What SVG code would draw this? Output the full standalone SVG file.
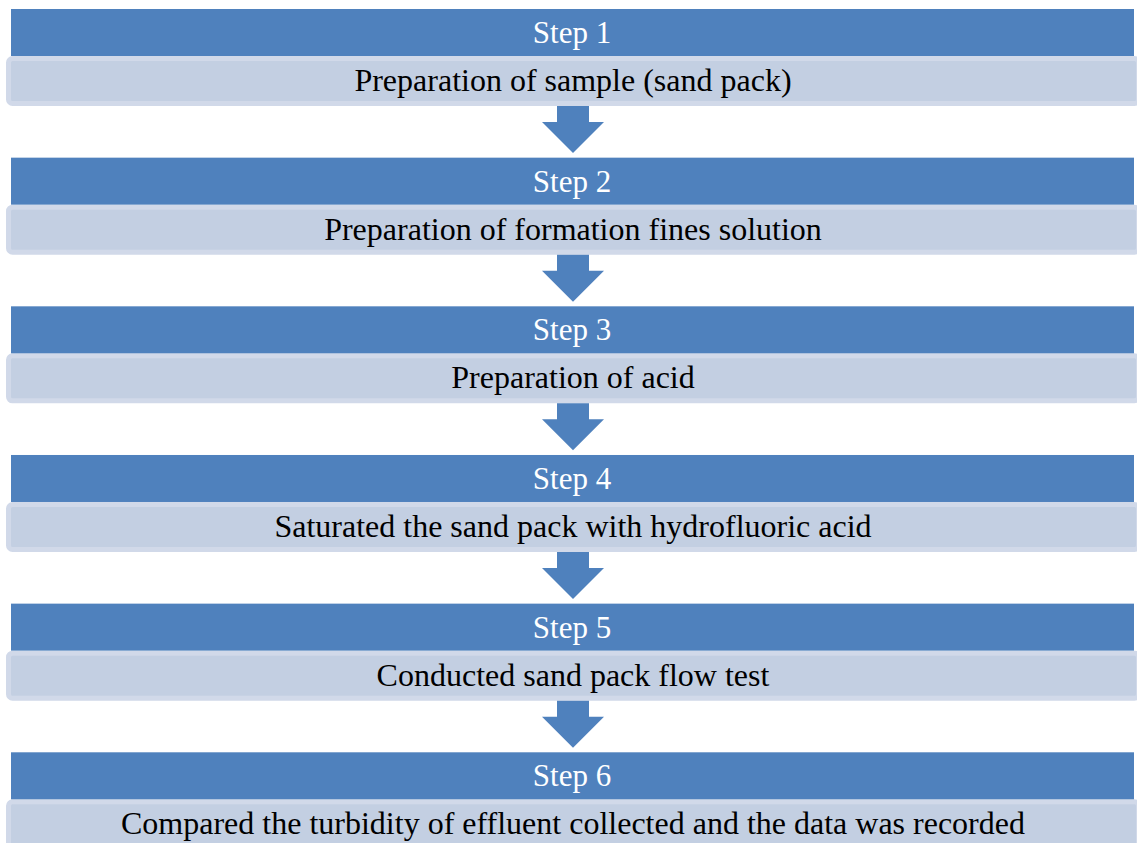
<svg xmlns="http://www.w3.org/2000/svg" width="1137" height="843" viewBox="0 0 1137 843">
<defs>
<style>
.hd{fill:#4f81bd;}
.bd{fill:#c3cfe2;stroke:#d1d9e9;stroke-width:5;}
.ar{fill:#4f81bd;}
.th{font-family:"Liberation Serif","Times New Roman",serif;font-size:31px;fill:#ffffff;text-anchor:middle;}
.tb{font-family:"Liberation Serif","Times New Roman",serif;font-size:32px;fill:#000000;text-anchor:middle;}
</style>
<path id="arw" d="M557,106 H589 V122 H604 L573,153 L542,122 H557 Z"/>
</defs>
<rect width="1137" height="843" fill="#ffffff"/>
<g id="step1">
<rect class="bd" x="8.5" y="58.5" width="1130" height="45" rx="4"/>
<rect class="hd" x="11" y="9" width="1123" height="47"/>
<text class="th" x="572" y="43">Step 1</text>
<text class="tb" x="573" y="91">Preparation of sample (sand pack)</text>
</g>
<g id="step2" transform="translate(0,148.66)">
<rect class="bd" x="8.5" y="58.5" width="1130" height="45" rx="4"/>
<rect class="hd" x="11" y="9" width="1123" height="47"/>
<text class="th" x="572" y="43">Step 2</text>
<text class="tb" x="573" y="91">Preparation of formation fines solution</text>
</g>
<g id="step3" transform="translate(0,297.32)">
<rect class="bd" x="8.5" y="58.5" width="1130" height="45" rx="4"/>
<rect class="hd" x="11" y="9" width="1123" height="47"/>
<text class="th" x="572" y="43">Step 3</text>
<text class="tb" x="573" y="91">Preparation of acid</text>
</g>
<g id="step4" transform="translate(0,445.98)">
<rect class="bd" x="8.5" y="58.5" width="1130" height="45" rx="4"/>
<rect class="hd" x="11" y="9" width="1123" height="47"/>
<text class="th" x="572" y="43">Step 4</text>
<text class="tb" x="573" y="91">Saturated the sand pack with hydrofluoric acid</text>
</g>
<g id="step5" transform="translate(0,594.64)">
<rect class="bd" x="8.5" y="58.5" width="1130" height="45" rx="4"/>
<rect class="hd" x="11" y="9" width="1123" height="47"/>
<text class="th" x="572" y="43">Step 5</text>
<text class="tb" x="573" y="91">Conducted sand pack flow test</text>
</g>
<g id="step6" transform="translate(0,743.3)">
<rect class="bd" x="8.5" y="58.5" width="1130" height="45" rx="4"/>
<rect class="hd" x="11" y="9" width="1123" height="47"/>
<text class="th" x="572" y="43">Step 6</text>
<text class="tb" x="573" y="91">Compared the turbidity of effluent collected and the data was recorded</text>
</g>
<g id="connectors" class="ar">
<use href="#arw"/>
<use href="#arw" transform="translate(0,148.66)"/>
<use href="#arw" transform="translate(0,297.32)"/>
<use href="#arw" transform="translate(0,445.98)"/>
<use href="#arw" transform="translate(0,594.64)"/>
</g>
</svg>
